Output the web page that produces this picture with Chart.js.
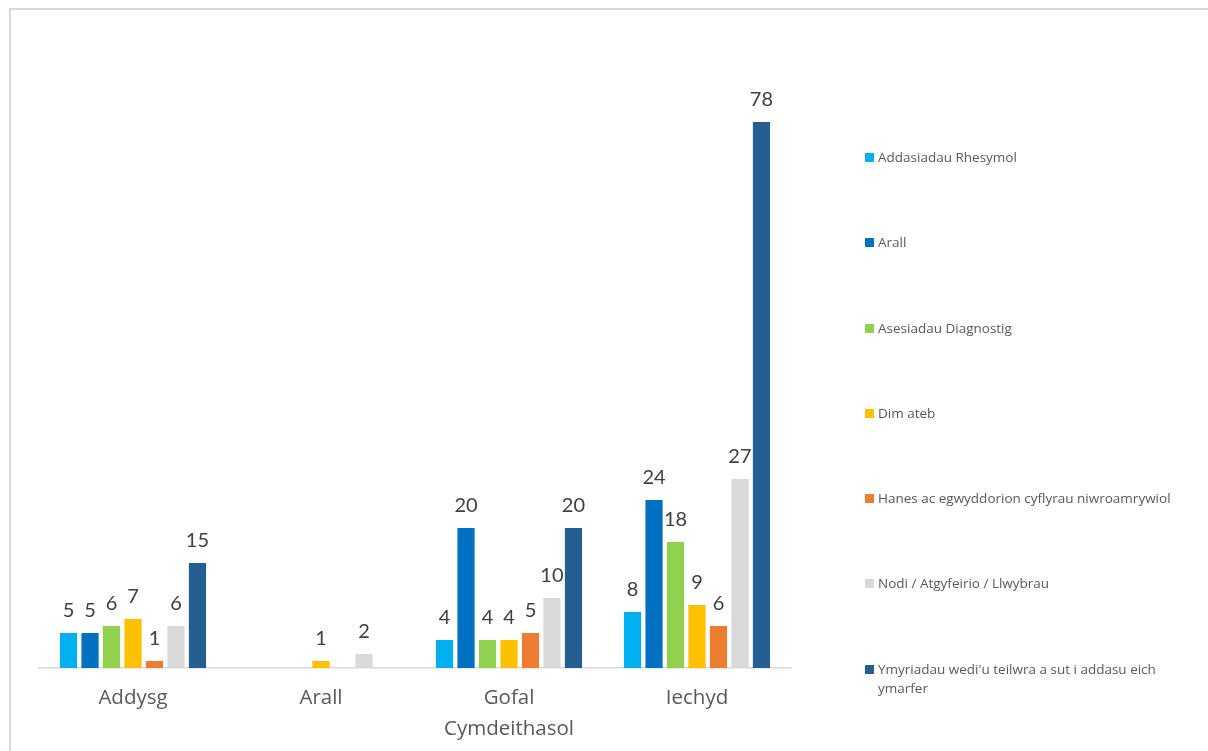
<!DOCTYPE html>
<html>
<head>
<meta charset="utf-8">
<script src="https://cdn.jsdelivr.net/npm/chart.js@4/dist/chart.umd.min.js"></script>
<style>
    body { margin: 0; background: #fff; }
    #wrap { position: relative; width: 1208px; height: 751px; overflow: hidden; }
    #frame {
        position: absolute; left: 9px; top: 8px; width: 1300px; height: 900px;
        border: 2px solid #d9d9d9; box-sizing: border-box;
    }
    #chart { position: absolute; left: 0; top: 0; }
    #legend {
        position: absolute; left: 865px; top: 148px; width: 330px;
        font-family: "Open Sans", sans-serif; font-size: 13.5px; color: #595959;
    }
    .item { display: flex; align-items: flex-start; height: 85.3px; line-height: 19px; }
    .box { width: 9px; height: 9px; margin-top: 5px; margin-right: 4px; flex: none; }
    .txt { max-width: 310px; }
</style>
</head>
<body>
<div id="wrap">
    <div id="frame"></div>
    <canvas id="chart" width="1208" height="751"></canvas>
    <div id="legend"></div>
</div>
<script>
const categories = ["Addysg", "Arall", ["Gofal", "Cymdeithasol"], "Iechyd"];

const seriesNames = [
    "Addasiadau Rhesymol",
    "Arall",
    "Asesiadau Diagnostig",
    "Dim ateb",
    "Hanes ac egwyddorion cyflyrau niwroamrywiol",
    "Nodi / Atgyfeirio / Llwybrau",
    "Ymyriadau wedi'u teilwra a sut i addasu eich ymarfer"
];

const seriesColors = ["#00b0f0", "#0070c0", "#92d050", "#ffc000", "#ed7d31", "#d9d9d9", "#255e91"];

// values per series, in category order
const addasiadau = [5, null, 4, 8];
const arall = [5, null, 20, 24];
const asesiadau = [6, null, 4, 18];
const dimAteb = [7, 1, 4, 9];
const hanes = [1, null, 5, 6];
const nodi = [6, 2, 10, 27];
const ymyriadau = [15, null, 20, 78];

const seriesValues = [addasiadau, arall, asesiadau, dimAteb, hanes, nodi, ymyriadau];

const valueLabels = {
    id: "valueLabels",
    afterDatasetsDraw(chart) {
        const ctx = chart.ctx;
        ctx.save();
        ctx.font = "20px Lato";
        ctx.fillStyle = "#404040";
        ctx.textAlign = "center";
        ctx.textBaseline = "alphabetic";
        chart.data.datasets.forEach((ds, i) => {
            chart.getDatasetMeta(i).data.forEach((bar, j) => {
                const v = ds.data[j];
                if (v === null) return;
                ctx.fillText(v, bar.x, bar.y - 16);
            });
        });
        ctx.restore();
    }
};

const ctx = document.getElementById("chart").getContext("2d");

new Chart(ctx, {
    type: "bar",
    data: {
        labels: categories,
        datasets: seriesNames.map((name, i) => ({
            label: name,
            data: seriesValues[i],
            backgroundColor: seriesColors[i],
            categoryPercentage: 0.8,
            barPercentage: 0.8
        }))
    },
    options: {
        responsive: false,
        animation: false,
        layout: {
            padding: { left: 39, right: 417, top: 108, bottom: 0 }
        },
        plugins: {
            legend: { display: false },
            tooltip: { enabled: false }
        },
        scales: {
            x: {
                grid: { display: false, drawTicks: false },
                border: { display: true, color: "#d9d9d9", width: 1.5 },
                ticks: {
                    color: "#595959",
                    font: { family: "Open Sans", size: 20.5, lineHeight: 1.5 },
                    padding: 15,
                    maxRotation: 0
                },
                afterFit: (scale) => { scale.height = 83; }
            },
            y: {
                display: false,
                min: 0,
                max: 80
            }
        }
    },
    plugins: [valueLabels]
});

const legend = document.getElementById("legend");
seriesNames.forEach((name, i) => {
    const item = document.createElement("div");
    item.className = "item";
    item.innerHTML = `<span class="box" style="background:${seriesColors[i]}"></span><span class="txt">${name}</span>`;
    legend.appendChild(item);
});
</script>
</body>
</html>
